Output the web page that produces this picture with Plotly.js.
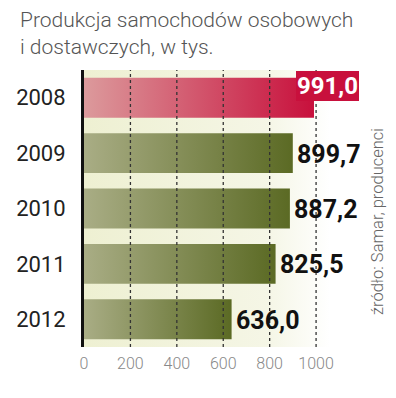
<!DOCTYPE html>
<html><head><meta charset="utf-8">
<script src="https://cdn.plot.ly/plotly-3.0.1.min.js"></script>
<style>body{margin:0;background:#fff}#c{width:396px;height:398px}</style>
</head><body><div id="c"></div>
<script>
var years = ['2008','2009','2010','2011','2012'];
var values = [991.0, 899.7, 887.2, 825.5, 636.0];
var xTicks = [0, 200, 400, 600, 800, 1000];
var gridTicks = [200, 400, 600, 800, 1000];
var titleText = 'Produkcja samochodów osobowych<br>i dostawczych, w tys.';
var sourceText = 'źródło: Samar, producenci';

function fmt(v){ return v.toFixed(1).replace('.', ','); }

var trace = {
  type: 'bar', orientation: 'h',
  y: years, x: values, width: 0.72,
  marker: {color: values.map(function(v,i){ return i===0 ? '#cc2a4c' : '#6f7a3a'; }), line:{width:0}},
  hoverinfo: 'none'
};

var annotations = values.map(function(v,i){
  if (i === 0) {
    return {x: v, y: years[i], xref:'x', yref:'y', text: '<b>'+fmt(v)+'</b>', showarrow:false,
      xanchor:'center', xshift: 14, yshift: 12,
      font:{family:'Roboto, sans-serif', size: 24, color:'#fff'},
      bgcolor:'#c8103c', bordercolor:'#c8103c', borderwidth:1, borderpad:0};
  }
  return {x: v, y: years[i], xref:'x', yref:'y', text: '<b>'+fmt(v)+'</b>', showarrow:false,
    xanchor:'left', xshift: 2, yshift: -1,
    font:{family:'Roboto, sans-serif', size: 25, color:'#111'}};
});
annotations.push({text: titleText, xref:'paper', yref:'paper', x: (18-84)/246, y: (347-6)/277,
  xanchor:'left', yanchor:'top', align:'left', showarrow:false,
  font:{family:'Roboto, sans-serif', size: 21, color:'#555', weight: 300}});
annotations.push({text: sourceText, xref:'paper', yref:'paper', x: (377-84)/246, y: (347-222)/277, showarrow:false,
  textangle: -90, font:{family:'Roboto, sans-serif', size: 16.5, color:'#666', weight: 300}, xanchor:'center', yanchor:'middle'});

var shapes = gridTicks.map(function(t){
  return {type:'line', xref:'x', yref:'paper', x0:t, x1:t, y0:0, y1:1, layer:'above',
    line:{color:'#333', width:1.3, dash:'3px,3px'}};
});

var layout = {
  width: 396, height: 398,
  margin: {l: 84, r: 66, t: 70, b: 51},
  paper_bgcolor: '#fff', plot_bgcolor: '#f2f2dc',
  xaxis: {range: [0, 1060], tickvals: xTicks, ticktext: xTicks.map(String), showgrid:false, zeroline:false,
    ticks:'outside', ticklen: 2, tickcolor:'rgba(0,0,0,0)',
    tickfont:{family:'Roboto, sans-serif', size: 16, color:'#888', weight: 300}},
  yaxis: {autorange:'reversed', showgrid:false, showline:true, linecolor:'#111', linewidth:3,
    ticks:'outside', ticklen: 11, tickcolor:'rgba(0,0,0,0)',
    tickfont:{family:'Roboto, sans-serif', size: 22, color:'#222'}},
  annotations: annotations, shapes: shapes, showlegend:false
};

Plotly.newPlot('c', [trace], layout, {staticPlot:true}).then(function(){
  var svg = document.querySelector('#c .main-svg');
  var ns = 'http://www.w3.org/2000/svg';
  var defs = svg.querySelector('defs') || svg.insertBefore(document.createElementNS(ns,'defs'), svg.firstChild);
  function grad(id, stops){
    var g = document.createElementNS(ns,'linearGradient');
    g.setAttribute('id', id); g.setAttribute('x1','0'); g.setAttribute('x2','1'); g.setAttribute('y1','0'); g.setAttribute('y2','0');
    stops.forEach(function(s){ var st=document.createElementNS(ns,'stop'); st.setAttribute('offset',s[0]); st.setAttribute('stop-color',s[1]); g.appendChild(st); });
    defs.appendChild(g);
  }
  grad('gRed', [['0','#dc9a9c'],['1','#c8103c']]);
  grad('gOlive', [['0','#a9ad85'],['1','#5b6a24']]);
  grad('gBg', [['0','#eef0d2'],['0.75','#f5f6e6'],['1','#ffffff']]);
  var paths = svg.querySelectorAll('.barlayer .point path');
  paths.forEach(function(p,i){ p.style.fill = i===0 ? 'url(#gRed)' : 'url(#gOlive)'; });
  var bg = svg.querySelector('.bglayer .bg');
  if (bg) bg.style.fill = 'url(#gBg)';
});
</script></body></html>
